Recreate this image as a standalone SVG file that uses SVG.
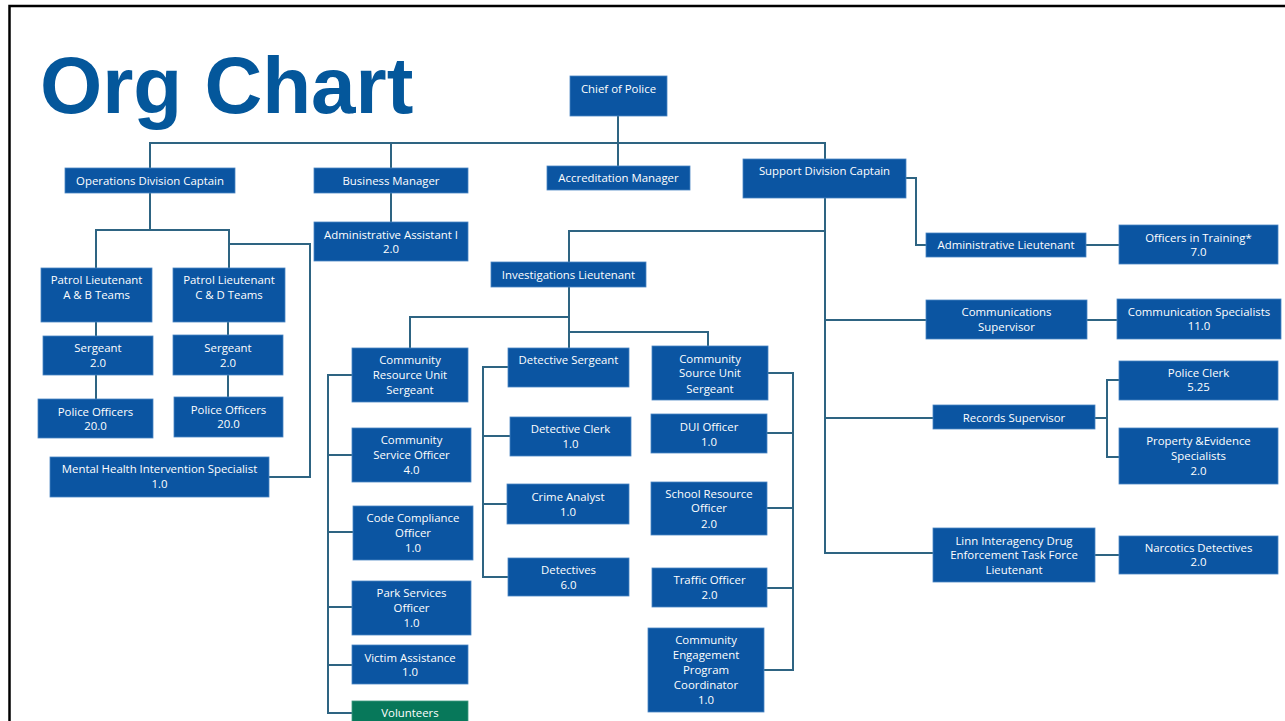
<svg xmlns="http://www.w3.org/2000/svg" width="1285" height="721" viewBox="0 0 1285 721">
<style>
.b{fill:#0b55a2;stroke:#4a86c4;stroke-width:0.8}
.g{fill:#07785a;stroke:#3f9a80;stroke-width:0.8}
.t{font-family:"Open Sans","Liberation Sans",sans-serif;font-size:11.4px;fill:#ffffff;text-anchor:middle}
.c{fill:none;stroke:#2e6482;stroke-width:2}
</style>
<rect x="0" y="0" width="1285" height="721" fill="#ffffff"/>
<path d="M9.5,721 V6 H1285" fill="none" stroke="#000000" stroke-width="2.5"/>
<text x="40" y="113" font-family="'Liberation Sans',Arial,sans-serif" font-weight="bold" font-size="80" fill="#04579b">Org Chart</text>
<g id="connectors">
<path class="c" d="M618,116 V166"/>
<path class="c" d="M150,168 V143 H825 V159"/>
<path class="c" d="M391,143 V168 M391,193 V222"/>
<path class="c" d="M150,193 V230 M96,268 V230 H229 V268"/>
<path class="c" d="M229,244 H310 V477 H269"/>
<path class="c" d="M96,322 V336 M96,375 V399 M228,322 V335 M228,375 V397"/>
<path class="c" d="M825,198 V553 H933 M825,231 H569 V262 M825,320 H926 M825,418 H933"/>
<path class="c" d="M906,178 H916 V245 H926 M1086,245 H1119 M1087,320 H1117"/>
<path class="c" d="M1095,418 H1107 M1119,380 H1107 V457 H1119 M1095,555 H1119"/>
<path class="c" d="M569,287 V348 M410,348 V317 H569 M569,332 H708 V346"/>
<path class="c" d="M352,375 H328 V713 H352 M328,455 H352 M328,532 H353 M328,607 H352 M328,665 H352"/>
<path class="c" d="M508,367 H483 V577 H508 M483,436 H510 M483,504 H507"/>
<path class="c" d="M768,373 H793 V670 H764 M793,433 H767 M793,508 H767 M793,588 H767"/>
</g>
<g id="chief"><rect class="b" x="570" y="76" width="97" height="40"/><text class="t" x="618.5" y="93">Chief of Police</text></g>
<g id="ops"><rect class="b" x="65" y="168" width="170" height="25"/><text class="t" x="150" y="185">Operations Division Captain</text></g>
<g id="biz"><rect class="b" x="314" y="168" width="154" height="25"/><text class="t" x="391" y="184.5">Business Manager</text></g>
<g id="adminasst"><rect class="b" x="314" y="222" width="154" height="39"/><text class="t" x="391" y="239">Administrative Assistant I</text><text class="t" x="391" y="253">2.0</text></g>
<g id="accred"><rect class="b" x="547" y="166" width="143" height="24"/><text class="t" x="618.5" y="182">Accreditation Manager</text></g>
<g id="support"><rect class="b" x="743" y="159" width="163" height="39"/><text class="t" x="824.5" y="175">Support Division Captain</text></g>
<g id="invlt"><rect class="b" x="491" y="262" width="155" height="25"/><text class="t" x="568.5" y="278.5">Investigations Lieutenant</text></g>
<g id="adminlt"><rect class="b" x="926" y="233" width="160" height="24"/><text class="t" x="1006" y="249">Administrative Lieutenant</text></g>
<g id="oit"><rect class="b" x="1119" y="225" width="159" height="39"/><text class="t" x="1198.5" y="242">Officers in Training*</text><text class="t" x="1198.5" y="256">7.0</text></g>
<g id="commsup"><rect class="b" x="926" y="300" width="161" height="39"/><text class="t" x="1006.5" y="316">Communications</text><text class="t" x="1006.5" y="330.5">Supervisor</text></g>
<g id="commspec"><rect class="b" x="1117" y="299" width="164" height="40"/><text class="t" x="1199" y="316">Communication Specialists</text><text class="t" x="1199" y="330">11.0</text></g>
<g id="records"><rect class="b" x="933" y="405" width="162" height="24"/><text class="t" x="1014" y="421.5">Records Supervisor</text></g>
<g id="clerk"><rect class="b" x="1119" y="361" width="159" height="39"/><text class="t" x="1198.5" y="377">Police Clerk</text><text class="t" x="1198.5" y="391">5.25</text></g>
<g id="property"><rect class="b" x="1119" y="428" width="159" height="56"/><text class="t" x="1198.5" y="445">Property &amp;Evidence</text><text class="t" x="1198.5" y="459.5">Specialists</text><text class="t" x="1198.5" y="474.5">2.0</text></g>
<g id="linn"><rect class="b" x="933" y="528" width="162" height="54"/><text class="t" x="1014" y="545">Linn Interagency Drug</text><text class="t" x="1014" y="559">Enforcement Task Force</text><text class="t" x="1014" y="574">Lieutenant</text></g>
<g id="narc"><rect class="b" x="1119" y="536" width="159" height="38"/><text class="t" x="1198.5" y="552">Narcotics Detectives</text><text class="t" x="1198.5" y="566">2.0</text></g>
<g id="patrolab"><rect class="b" x="41" y="268" width="111" height="54"/><text class="t" x="96.5" y="284">Patrol Lieutenant</text><text class="t" x="96.5" y="298.5">A &amp; B Teams</text></g>
<g id="patrolcd"><rect class="b" x="173" y="268" width="112" height="54"/><text class="t" x="229" y="284">Patrol Lieutenant</text><text class="t" x="229" y="298.5">C &amp; D Teams</text></g>
<g id="sgtl"><rect class="b" x="43" y="336" width="110" height="39"/><text class="t" x="98" y="352">Sergeant</text><text class="t" x="98" y="366.5">2.0</text></g>
<g id="sgtr"><rect class="b" x="173" y="335" width="110" height="40"/><text class="t" x="228" y="352">Sergeant</text><text class="t" x="228" y="366.5">2.0</text></g>
<g id="pol"><rect class="b" x="38" y="399" width="115" height="39"/><text class="t" x="95.5" y="415.5">Police Officers</text><text class="t" x="95.5" y="430">20.0</text></g>
<g id="por"><rect class="b" x="174" y="397" width="109" height="40"/><text class="t" x="228.5" y="413.5">Police Officers</text><text class="t" x="228.5" y="428">20.0</text></g>
<g id="mh"><rect class="b" x="50" y="457" width="219" height="40"/><text class="t" x="159.5" y="473">Mental Health Intervention Specialist</text><text class="t" x="159.5" y="488">1.0</text></g>
<g id="cru"><rect class="b" x="352" y="348" width="116" height="54"/><text class="t" x="410" y="364">Community</text><text class="t" x="410" y="378.5">Resource Unit</text><text class="t" x="410" y="394">Sergeant</text></g>
<g id="cso"><rect class="b" x="352" y="428" width="119" height="54"/><text class="t" x="411.5" y="444">Community</text><text class="t" x="411.5" y="458.5">Service Officer</text><text class="t" x="411.5" y="474">4.0</text></g>
<g id="cco"><rect class="b" x="353" y="506" width="120" height="54"/><text class="t" x="413" y="522">Code Compliance</text><text class="t" x="413" y="536.5">Officer</text><text class="t" x="413" y="552">1.0</text></g>
<g id="pso"><rect class="b" x="352" y="581" width="119" height="54"/><text class="t" x="411.5" y="597">Park Services</text><text class="t" x="411.5" y="611.5">Officer</text><text class="t" x="411.5" y="627">1.0</text></g>
<g id="va"><rect class="b" x="352" y="645" width="116" height="39"/><text class="t" x="410" y="661.5">Victim Assistance</text><text class="t" x="410" y="676">1.0</text></g>
<g id="vol"><rect class="g" x="352" y="701" width="116" height="26"/><text class="t" x="410" y="717">Volunteers</text></g>
<g id="detsgt"><rect class="b" x="508" y="348" width="121" height="39"/><text class="t" x="568.5" y="364">Detective Sergeant</text></g>
<g id="detclerk"><rect class="b" x="510" y="417" width="121" height="39"/><text class="t" x="570.5" y="433">Detective Clerk</text><text class="t" x="570.5" y="447.5">1.0</text></g>
<g id="crime"><rect class="b" x="507" y="484" width="122" height="40"/><text class="t" x="568" y="501">Crime Analyst</text><text class="t" x="568" y="516">1.0</text></g>
<g id="detectives"><rect class="b" x="508" y="558" width="121" height="38"/><text class="t" x="568.5" y="574">Detectives</text><text class="t" x="568.5" y="588.5">6.0</text></g>
<g id="csu"><rect class="b" x="652" y="346" width="116" height="54"/><text class="t" x="710" y="362.5">Community</text><text class="t" x="710" y="377">Source Unit</text><text class="t" x="710" y="392.5">Sergeant</text></g>
<g id="dui"><rect class="b" x="651" y="414" width="116" height="39"/><text class="t" x="709" y="431">DUI Officer</text><text class="t" x="709" y="445.5">1.0</text></g>
<g id="sro"><rect class="b" x="651" y="482" width="116" height="53"/><text class="t" x="709" y="497.5">School Resource</text><text class="t" x="709" y="512">Officer</text><text class="t" x="709" y="527.5">2.0</text></g>
<g id="traffic"><rect class="b" x="652" y="568" width="115" height="39"/><text class="t" x="709.5" y="584">Traffic Officer</text><text class="t" x="709.5" y="599">2.0</text></g>
<g id="cepc"><rect class="b" x="648" y="628" width="116" height="84"/><text class="t" x="706" y="644">Community</text><text class="t" x="706" y="659">Engagement</text><text class="t" x="706" y="674">Program</text><text class="t" x="706" y="689">Coordinator</text><text class="t" x="706" y="703.5">1.0</text></g>
</svg>
